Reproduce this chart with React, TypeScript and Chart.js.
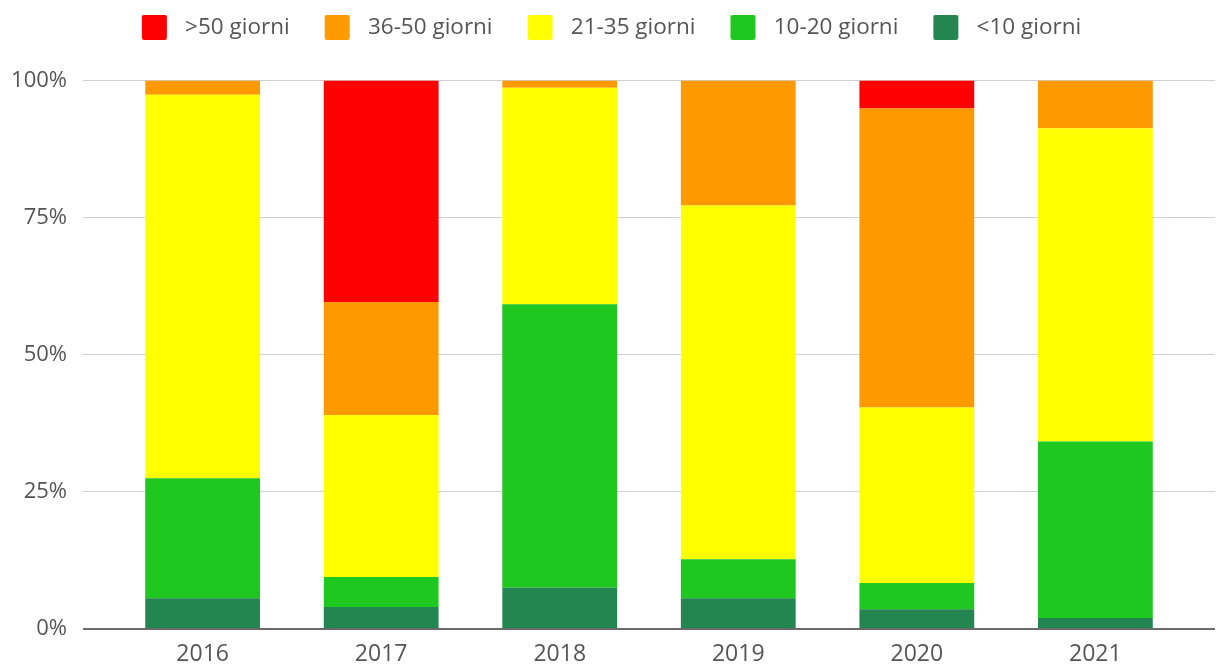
import React, { useEffect, useRef } from "react";
import { Chart, registerables } from "chart.js";

Chart.register(...registerables);

const years = ["2016", "2017", "2018", "2019", "2020", "2021"];
const yTicks = [0, 25, 50, 75, 100];

// stacked from bottom to top
const under10 = [5.6, 4.0, 7.5, 5.6, 3.6, 2.0];
const days10to20 = [21.9, 5.5, 51.7, 7.1, 4.8, 32.2];
const days21to35 = [69.9, 29.5, 39.5, 64.5, 32.0, 57.1];
const days36to50 = [2.6, 20.6, 1.3, 22.8, 54.5, 8.7];
const over50 = [0, 40.4, 0, 0, 5.1, 0];

const seriesLabels = ["<10 giorni", "10-20 giorni", "21-35 giorni", "36-50 giorni", ">50 giorni"];
const seriesColors = ["#23854f", "#1ec81e", "#ffff00", "#ff9900", "#ff0000"];
const seriesValues = [under10, days10to20, days21to35, days36to50, over50];

const FONT = "'Open Sans', 'DejaVu Sans', sans-serif";
const TEXT = "#555555";

function makeSwatch(color: string): HTMLCanvasElement {
  const c = document.createElement("canvas");
  c.width = 57;
  c.height = 25;
  const ctx = c.getContext("2d")!;
  ctx.fillStyle = color;
  const x = 25, y = 0, w = 25, h = 25, r = 2;
  ctx.beginPath();
  ctx.moveTo(x + r, y);
  ctx.lineTo(x + w - r, y);
  ctx.quadraticCurveTo(x + w, y, x + w, y + r);
  ctx.lineTo(x + w, y + h - r);
  ctx.quadraticCurveTo(x + w, y + h, x + w - r, y + h);
  ctx.lineTo(x + r, y + h);
  ctx.quadraticCurveTo(x, y + h, x, y + h - r);
  ctx.lineTo(x, y + r);
  ctx.quadraticCurveTo(x, y, x + r, y);
  ctx.closePath();
  ctx.fill();
  return c;
}

export default function App() {
  const ref = useRef<HTMLCanvasElement | null>(null);

  useEffect(() => {
    document.body.style.margin = "0";
    if (!ref.current) return;
    const swatches = seriesColors.map(makeSwatch);

    const legendAdjust = {
      id: "legendAdjust",
      beforeLayout(chart: any) {
        const lg = chart.legend;
        if (lg && !lg.__patched) {
          const orig = lg.fit.bind(lg);
          lg.fit = function () {
            orig();
            lg.height += 32;
          };
          lg.__patched = true;
        }
      },
      afterLayout(chart: any) {
        const lg = chart.legend;
        if (lg) {
          lg.left -= 14;
          lg.right -= 14;
        }
      },
    };

    const chart = new Chart(ref.current, {
      type: "bar",
      data: {
        datasets: seriesLabels.map((label, i) => ({
          label,
          data: seriesValues[i].map((v, j) => ({ x: j, y: v })),
          backgroundColor: seriesColors[i],
          borderWidth: 0,
          categoryPercentage: 1,
          barPercentage: 0.643,
        })),
      },
      options: {
        responsive: false,
        animation: false,
        layout: { padding: { top: 6, left: 11, right: 2, bottom: 0 } },
        plugins: {
          tooltip: { enabled: false },
          legend: {
            position: "top",
            reverse: true,
            labels: {
              usePointStyle: true,
              pointStyleWidth: 57,
              boxHeight: 22,
              padding: 10,
              color: TEXT,
              font: { family: FONT, size: 22.5 },
              generateLabels: (ch: any) => {
                const items = (Chart.defaults.plugins.legend.labels as any).generateLabels(ch);
                items.forEach((it: any) => {
                  it.pointStyle = swatches[it.datasetIndex];
                });
                return items;
              },
            },
          },
        },
        scales: {
          x: {
            type: "linear",
            stacked: true,
            offset: false,
            min: -0.67,
            max: 5.67,
            grid: { display: false, drawTicks: false, offset: false },
            border: { display: false },
            afterBuildTicks: (s: any) => {
              s.ticks = years.map((_, i) => ({ value: i }));
            },
            afterFit: (s: any) => {
              s.height = 38;
            },
            ticks: {
              autoSkip: false,
              maxRotation: 0,
              padding: 12,
              color: TEXT,
              font: { family: FONT, size: 23 },
              callback: (v: any) => years[v as number] ?? "",
            },
          },
          y: {
            stacked: true,
            min: 0,
            max: 100,
            border: { display: false },
            afterBuildTicks: (s: any) => {
              s.ticks = yTicks.map((v) => ({ value: v }));
            },
            afterFit: (s: any) => {
              s.width = 72;
            },
            grid: {
              drawTicks: false,
              color: (c: any) => (c.tick && c.tick.value === 0 ? "#6a6a6a" : "#d0d0d0"),
              lineWidth: (c: any) => (c.tick && c.tick.value === 0 ? 2 : 1),
            },
            ticks: {
              padding: 16,
              color: TEXT,
              font: { family: FONT, size: 22 },
              callback: (v: any) => v + "%",
            },
          },
        },
      },
      plugins: [legendAdjust],
    } as any);

    return () => chart.destroy();
  }, []);

  return (
    <div style={{ width: 1217, height: 667 }}>
      <canvas ref={ref} width={1217} height={667} style={{ display: "block" }} />
    </div>
  );
}
